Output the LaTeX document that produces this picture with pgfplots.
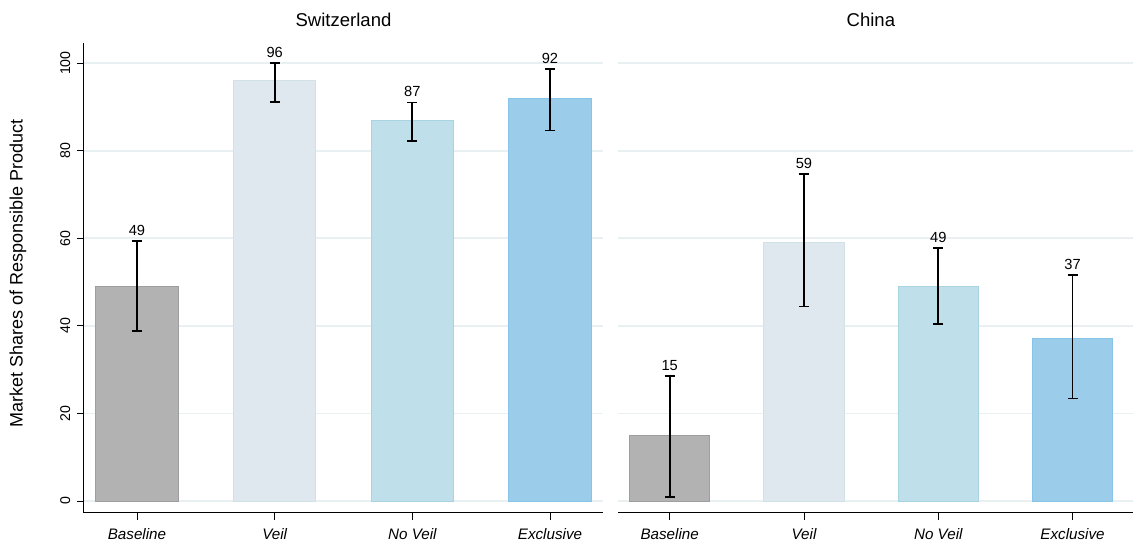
\documentclass[border=0pt]{standalone}
\usepackage{pgfplots}
\pgfplotsset{compat=1.18}
\usepackage{pgfplotstable}
\usepackage{fontspec}
\setmainfont{Liberation Sans}
\definecolor{cBase}{HTML}{B2B2B2}
\definecolor{cBaseE}{HTML}{9E9E9E}
\definecolor{cVeil}{HTML}{DFE8EE}
\definecolor{cVeilE}{HTML}{D2E0E8}
\definecolor{cNo}{HTML}{BFE0EA}
\definecolor{cNoE}{HTML}{A8D4E2}
\definecolor{cExc}{HTML}{9BCDEB}
\definecolor{cExcE}{HTML}{88C3E8}
\definecolor{gridc}{HTML}{E8F0F2}

\pgfplotstableread{
x y ep em
0 49 10.4 10.1
1 96 4.0 4.9
2 87 4.0 4.7
3 92 6.6 7.4
}\swiss
\pgfplotstableread{
x y ep em
0 15 13.6 14.0
1 59 15.7 14.6
2 49 8.8 8.6
3 37 14.6 13.6
}\china

\pgfplotsset{
 panel/.style={
  scale only axis, height=352.5pt,
  ymin=-2.74, ymax=104.6, xmin=-0.385,
  xtick={0,1,2,3}, xticklabels={Baseline,Veil,No Veil,Exclusive},
  xticklabel style={font=\fontsize{11.4}{13}\selectfont\itshape, yshift=-3.2pt},
  ytick={0,20,...,100},
  yticklabel style={xshift=-1.5pt, rotate=90, anchor=south, font=\fontsize{10.6}{12}\selectfont},
  ymajorgrids, grid style={draw=gridc, line width=1.2pt},
  tick align=outside, major tick length=5.25pt,
  tick style={black, line width=0.6pt},
  axis line style={black, line width=0.75pt},
  title style={font=\fontsize{13.9}{16}\selectfont, anchor=base, yshift=6.2pt},
  /pgf/number format/assume math mode=true,
  bar width=0.6,
  nodes near coords style={font=\fontsize{11}{13}\selectfont, anchor=south, inner sep=1pt, yshift=3pt, black},
 },
 errs/.style={draw=none, mark=none,
  error bars/.cd, y dir=both, y explicit,
  error bar style={draw=black, line width=1.35pt},
  error mark options={draw=black, line width=1.35pt, mark size=3.75pt, rotate=90}},
 labs/.style={draw=none, mark=none, nodes near coords, point meta=explicit},
}

\begin{document}
\begin{tikzpicture}
\path[use as bounding box] (-63pt,-21.75pt) rectangle (788.25pt,384.75pt);
\begin{axis}[panel, width=389.25pt, xmax=3.385,
  axis x line*=bottom, axis y line*=left,
  title={Switzerland},
  ylabel={Market Shares of Responsible Product},
  ylabel style={font=\fontsize{13.5}{15}\selectfont, at={(axis description cs:-0.1272,0.51)}, anchor=center},
  ]
\addplot[ybar, bar shift=0pt, fill=cBase, draw=cBaseE, line width=0.75pt] coordinates {(0,49)};
\addplot[ybar, bar shift=0pt, fill=cVeil, draw=cVeilE, line width=0.75pt] coordinates {(1,96)};
\addplot[ybar, bar shift=0pt, fill=cNo, draw=cNoE, line width=0.75pt] coordinates {(2,87)};
\addplot[ybar, bar shift=0pt, fill=cExc, draw=cExcE, line width=0.75pt] coordinates {(3,92)};
\addplot[errs] table[x=x, y=y, y error plus=ep, y error minus=em] {\swiss};
\addplot[labs] table[x=x, y expr=\thisrow{y}+\thisrow{ep}, meta=y] {\swiss};
\end{axis}
\begin{axis}[panel, at={(400.5pt,0pt)}, width=386.25pt, xmax=3.45,
  axis x line*=bottom, axis y line*=left,
  y axis line style={draw=none}, ytick style={draw=none}, yticklabels={},
  title={China}, title style={at={(0.491,1)}},
  ]
\addplot[ybar, bar shift=0pt, fill=cBase, draw=cBaseE, line width=0.75pt] coordinates {(0,15)};
\addplot[ybar, bar shift=0pt, fill=cVeil, draw=cVeilE, line width=0.75pt] coordinates {(1,59)};
\addplot[ybar, bar shift=0pt, fill=cNo, draw=cNoE, line width=0.75pt] coordinates {(2,49)};
\addplot[ybar, bar shift=0pt, fill=cExc, draw=cExcE, line width=0.75pt] coordinates {(3,37)};
\addplot[errs] table[x=x, y=y, y error plus=ep, y error minus=em] {\china};
\addplot[labs] table[x=x, y expr=\thisrow{y}+\thisrow{ep}, meta=y] {\china};
\end{axis}
\end{tikzpicture}
\end{document}
